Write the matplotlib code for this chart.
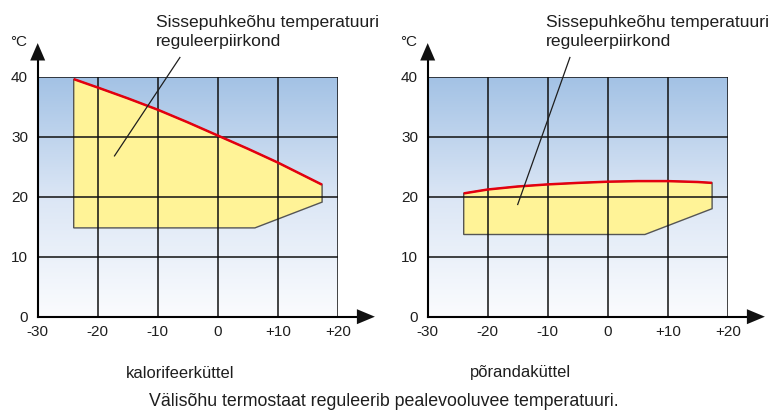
import matplotlib
matplotlib.use("Agg")
import matplotlib.pyplot as plt
import numpy as np
from matplotlib import font_manager
from matplotlib.colors import LinearSegmentedColormap
from matplotlib.patches import Polygon

# ---------------- data ----------------
x_ticks = [-30, -20, -10, 0, 10, 20]
x_tick_labels = ["-30", "-20", "-10", "0", "+10", "+20"]
y_ticks = [0, 10, 20, 30, 40]
y_tick_labels = ["0", "10", "20", "30", "40"]

left_top_x = [-24, -20, -15, -10, -5, 0, 5, 10, 15, 17.4]
left_top_y = [39.6, 38.2, 36.4, 34.5, 32.4, 30.2, 28.0, 25.7, 23.2, 22.0]
left_bottom_x = [17.4, 6.2, -24]
left_bottom_y = [19.1, 14.8, 14.8]

right_top_x = [-24, -20, -15, -10, -5, 0, 5, 10, 15, 17.4]
right_top_y = [20.55, 21.2, 21.7, 22.05, 22.3, 22.5, 22.6, 22.6, 22.45, 22.3]
right_bottom_x = [17.4, 6.2, -24]
right_bottom_y = [18.0, 13.7, 13.7]

annot_text = "Sissepuhkeõhu temperatuuri\nreguleerpiirkond"
left_pointer = (-17.2, 26.8)
right_pointer = (-15.0, 18.7)
subtitles = ["kalorifeerküttel", "põrandaküttel"]
title = "Välisõhu termostaat reguleerib pealevooluvee temperatuuri."

# ---------------- fonts ----------------
avail = {f.name for f in font_manager.fontManager.ttflist}
fam = "Liberation Sans Narrow" if "Liberation Sans Narrow" in avail else "Liberation Sans"
plt.rcParams["font.family"] = [fam, "DejaVu Sans"]
narrow = fam == "Liberation Sans Narrow"
fs_annot = 14 if narrow else 12.6
fs_sub = 13.5 if narrow else 11.9
fs_title = 14 if narrow else 12.8

W, H = 773, 416
fig = plt.figure(figsize=(W / 100, H / 100), dpi=100)

cmap = LinearSegmentedColormap.from_list("bg", ["#fbfcfe", "#dbe6f5", "#a3c2e5"])
grad = np.linspace(0, 1, 256).reshape(-1, 1)
TXT = "#1e1e1e"


def panel(left_px, top_x, top_y, bot_x, bot_y, pointer):
    ax = fig.add_axes([left_px / W, (H - 316.7) / H, 300 / W, 240 / H])
    ax.set_xlim(-30, 20)
    ax.set_ylim(0, 40)
    ax.imshow(grad, extent=[-30, 20, 0, 40], origin="lower", cmap=cmap,
              aspect="auto", zorder=0)
    # yellow region
    px = list(top_x) + list(bot_x)
    py = list(top_y) + list(bot_y)
    ax.add_patch(Polygon(np.column_stack([px, py]), closed=True,
                         facecolor="#fff397", edgecolor="#555555", lw=1.0, zorder=1))
    # grid
    for xv in x_ticks[1:]:
        ax.plot([xv, xv], [0, 40], color="#111111", lw=1.1, zorder=2)
    for yv in y_ticks[1:]:
        ax.plot([-30, 20], [yv, yv], color="#111111", lw=1.1, zorder=2)
    # red top boundary
    ax.plot(top_x, top_y, color="#e3000f", lw=1.8, zorder=3, solid_capstyle="butt")
    # axes lines with arrows
    ax.plot([-30, -30], [0, 42.8], color="black", lw=1.5, clip_on=False, zorder=4)
    ax.plot([-30, 23.3], [0, 0], color="black", lw=1.5, clip_on=False, zorder=4)
    ax.add_patch(Polygon([[-31.25, 42.7], [-28.75, 42.7], [-30, 45.6]], closed=True,
                         facecolor="#111111", edgecolor="none", clip_on=False, zorder=5))
    ax.add_patch(Polygon([[23.2, 1.25], [23.2, -1.25], [26.2, 0]], closed=True,
                         facecolor="#111111", edgecolor="none", clip_on=False, zorder=5))
    # ticks
    ax.set_xticks(x_ticks)
    ax.set_xticklabels(x_tick_labels)
    ax.set_yticks(y_ticks)
    ax.set_yticklabels(y_tick_labels)
    ax.tick_params(length=0, labelsize=11, colors=TXT)
    ax.tick_params(axis="x", pad=6)
    ax.tick_params(axis="y", pad=7)
    for s in ax.spines.values():
        s.set_visible(False)
    ax.text(-31.7, 45.7, "°C", ha="right", va="center", fontsize=11, color=TXT,
            clip_on=False)
    # annotation
    ax.text(-10.3, 50.3, annot_text, ha="left", va="top", fontsize=fs_annot,
            color=TXT, linespacing=1.35, clip_on=False)
    ax.plot([-6.3, pointer[0]], [43.2, pointer[1]], color=TXT, lw=0.9,
            clip_on=False, zorder=4)
    return ax


panel(37.7, left_top_x, left_top_y, left_bottom_x, left_bottom_y, left_pointer)
panel(427.7, right_top_x, right_top_y, right_bottom_x, right_bottom_y, right_pointer)

fig.text(126 / W, 1 - 373 / H, subtitles[0], ha="left", va="center", fontsize=fs_sub, color=TXT)
fig.text(470 / W, 1 - 373 / H, subtitles[1], ha="left", va="center", fontsize=fs_sub, color=TXT)
fig.text(383.5 / W, 1 - 402 / H, title, ha="center", va="center", fontsize=fs_title, color=TXT)

fig.savefig("out.png", dpi=100)
